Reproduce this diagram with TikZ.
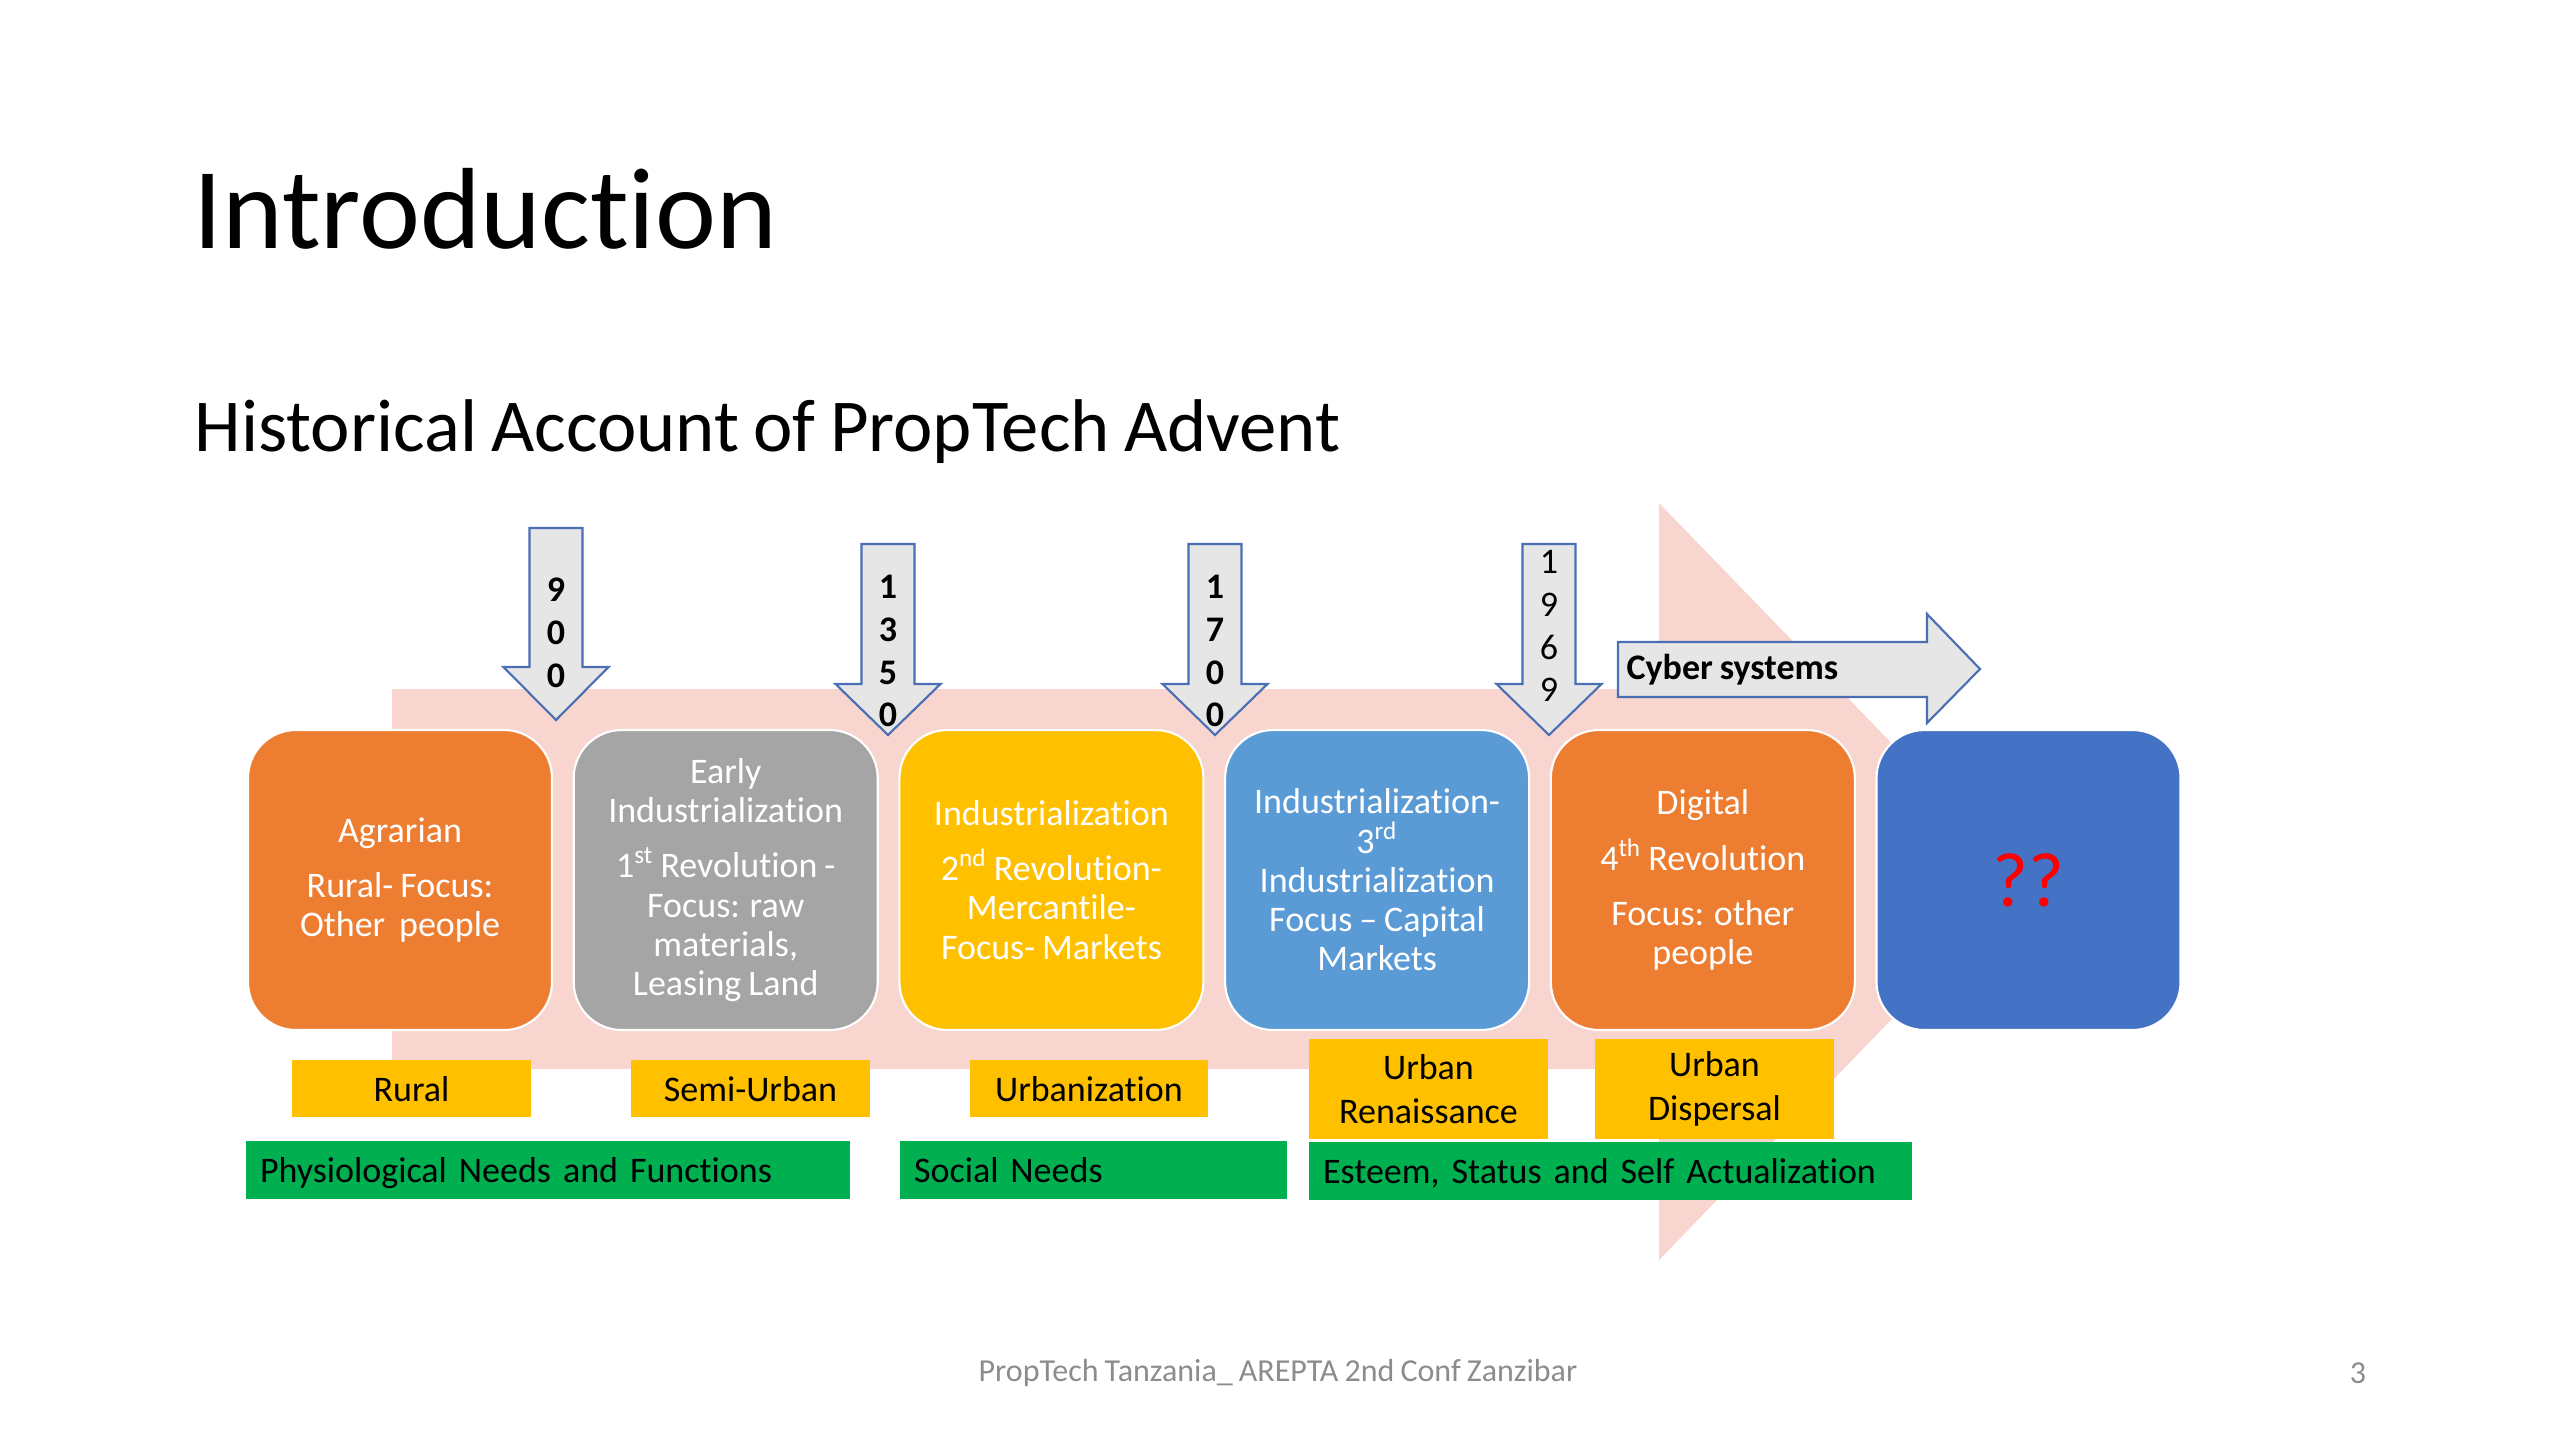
\documentclass[tikz,border=0pt]{standalone}
\usepackage{fontspec}
\setmainfont{Carlito}[Ligatures=NoCommon, WordSpace=0.85]
\definecolor{cOrange}{HTML}{ED7D31}
\definecolor{cGray}{HTML}{A5A5A5}
\definecolor{cYellow}{HTML}{FFC000}
\definecolor{cLBlue}{HTML}{5B9BD5}
\definecolor{cDBlue}{HTML}{4472C4}
\definecolor{cGreen}{HTML}{00B050}
\definecolor{cPink}{HTML}{F8D5CE}
\definecolor{cArrFill}{HTML}{E7E6E6}
\definecolor{cArrLine}{HTML}{4A6FB5}
\definecolor{cFoot}{HTML}{8C8C8C}
\newcommand{\boxfont}{\fontsize{13.5}{14.7}\selectfont}
\begin{document}
\begin{tikzpicture}[x=0.375pt,y=-0.375pt,
  stage/.style={rounded corners=18pt, draw=white, line width=0.8pt,
    minimum width=114pt, minimum height=112.5pt, text=white, align=center,
    font=\boxfont, inner sep=2pt},
  ylab/.style={fill=cYellow, minimum width=89.6pt, minimum height=21.4pt,
    align=center, font=\fontsize{13.5}{16.5}\selectfont, inner sep=1pt,
    text height=11.4pt, text depth=2pt},
  ylabtall/.style={fill=cYellow, minimum width=89.6pt, minimum height=37.5pt,
    align=center, font=\fontsize{13.5}{16.5}\selectfont, inner sep=1pt},
  gbar/.style={fill=cGreen, minimum height=21.4pt, align=left,
    inner xsep=5.25pt, inner ysep=1pt, font=\boxfont,
    text height=11.2pt, text depth=2pt},
  downarr/.style={fill=cArrFill, draw=cArrLine, line width=0.8pt, line join=miter},
  digits/.style={align=center, inner sep=0pt, font=\fontsize{13.5}{16.1}\selectfont\bfseries},
  digitsreg/.style={align=center, inner sep=0pt, font=\fontsize{13.5}{16.1}\selectfont},
]
\useasboundingbox (0,0) rectangle (2560,1439);

% titles
\node[anchor=base west, inner sep=0pt, font=\fontsize{43.3}{50}\selectfont] (title) at (193,248) {Introduction};
\node[anchor=base west, inner sep=0pt, font=\fontsize{28}{32}\selectfont] (subtitle) at (194,451) {Historical Account of PropTech Advent};

% background arrow
\fill[cPink] (392,689) -- (1659,689) -- (1659,503) -- (2025,881) -- (1659,1260) -- (1659,1069) -- (392,1069) -- cycle;

% stage boxes
\node[stage, fill=cOrange] (b1) at (400,880) {Agrarian\\[6pt]Rural- Focus:\\Other\ \ people};
\node[stage, fill=cGray] (b2) at (725.7,880) {Early\\Industrialization\\[6pt]1\textsuperscript{st} Revolution -\\Focus: raw\\materials,\\Leasing Land};
\node[stage, fill=cYellow] (b3) at (1051.4,880) {Industrialization\\[6pt]2\textsuperscript{nd} Revolution-\\Mercantile-\\Focus- Markets};
\node[stage, fill=cLBlue] (b4) at (1377.1,880) {Industrialization-\\3\textsuperscript{rd}\\Industrialization\\Focus – Capital\\Markets};
\node[stage, fill=cOrange] (b5) at (1702.8,880) {Digital\\[6pt]4\textsuperscript{th} Revolution\\[6pt]Focus: other\\people};
\node[stage, fill=cDBlue, text=red, font=\fontsize{29}{30}\selectfont] (b6) at (2028.5,880) {??};

% year arrows
\draw[downarr] (529.5,528) -- (582.5,528) -- (582.5,667) -- (608.5,667) -- (556,720) -- (503.5,667) -- (529.5,667) -- cycle;
\node[digits] (y900) at (556,633) {9\\0\\0};
\draw[downarr] (861.5,544) -- (914.5,544) -- (914.5,684) -- (940.5,684) -- (888,735) -- (835.5,684) -- (861.5,684) -- cycle;
\node[digits] (y1350) at (888,651) {1\\3\\5\\0};
\draw[downarr] (1188.5,544) -- (1241.5,544) -- (1241.5,684) -- (1267.5,684) -- (1215,735) -- (1162.5,684) -- (1188.5,684) -- cycle;
\node[digits] (y1700) at (1215,651) {1\\7\\0\\0};
\draw[downarr] (1522.5,544) -- (1575.5,544) -- (1575.5,684) -- (1601.5,684) -- (1549,735) -- (1496.5,684) -- (1522.5,684) -- cycle;
\node[digitsreg] (y1969) at (1549,626) {1\\9\\6\\9};

% cyber systems arrow
\draw[downarr] (1618,642) -- (1927,642) -- (1927,614) -- (1980,669) -- (1927,723) -- (1927,697) -- (1618,697) -- cycle;
\node[anchor=west, inner sep=0pt, font=\fontsize{13.5}{15}\selectfont\bfseries] (cyber) at (1626,670) {Cyber systems};

% yellow labels
\node[ylab] (l1) at (411.5,1088.5) {Rural};
\node[ylab] (l2) at (750.5,1088.5) {Semi-Urban};
\node[ylab] (l3) at (1089,1088.5) {Urbanization};
\node[ylabtall] (l4) at (1428.5,1089) {Urban\\Renaissance};
\node[ylabtall] (l5) at (1714.5,1089) {Urban\\Dispersal};

% green bars
\node[gbar, text width=216pt] (g1) at (548,1170) {Physiological Needs and Functions};
\node[gbar, text width=134.6pt] (g2) at (1093.5,1170) {Social Needs};
\node[gbar, text width=215.6pt] (g3) at (1610.5,1171) {Esteem, Status and Self Actualization};

% footer
\node[inner sep=0pt, text=cFoot, font=\fontsize{12}{14}\selectfont] (foot) at (1278,1373) {PropTech Tanzania\_ AREPTA 2nd Conf Zanzibar};
\node[inner sep=0pt, text=cFoot, font=\fontsize{12}{14}\selectfont] (pnum) at (2358,1373) {3};
\end{tikzpicture}
\end{document}
